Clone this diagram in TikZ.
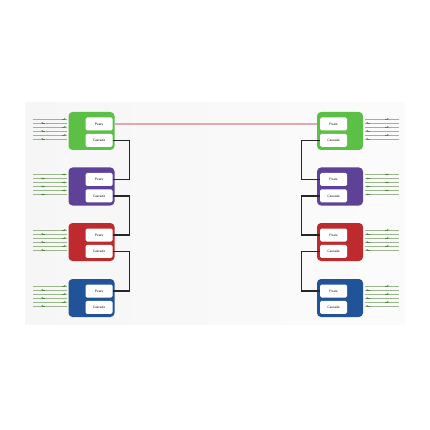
\documentclass[tikz,border=0pt]{standalone}
\usepackage{tikz}
\usetikzlibrary{positioning, arrows.meta, calc}

\definecolor{pgreen}{HTML}{5CBF46}
\definecolor{ppurple}{HTML}{5E4297}
\definecolor{pred}{HTML}{BF2A2E}
\definecolor{pblue}{HTML}{215398}
\definecolor{feedline}{HTML}{9DB58F}
\definecolor{feedtip}{HTML}{4F8A3E}
\definecolor{linkpink}{HTML}{DDAAAF}

\tikzset{
	panel/.style={rounded corners=4pt, minimum width=46pt, minimum height=38pt, inner sep=0pt},
	btn/.style={fill=white, rounded corners=1.5pt, minimum width=27pt, minimum height=13pt, inner sep=0pt, font=\fontsize{3.4}{3.4}\selectfont\sffamily},
	wire/.style={black!85, line width=1.3pt},
	feed/.style={feedline, line width=0.45pt},
	tip/.style={-{Stealth[length=2pt,width=1.6pt]}, feedtip}
}

\begin{document}
\begin{tikzpicture}[x=1pt, y=-1pt]
	\useasboundingbox (0,0) rectangle (430,430);
	% background panel
	\shade[left color=gray!7, right color=gray!3] (25,103) rectangle (405,324);

	% the switch boxes (left and right columns)
	\foreach \name/\col/\y in {a/pgreen/131, b/ppurple/186.5, c/pred/242, d/pblue/298} {
		\node[panel, fill=\col] (\name L) at (91.5,\y) {};
		\node[btn, anchor=center] (\name LP) at (99,\y-7) {Pears};
		\node[btn, below=3pt of \name LP] (\name LC) {Cascade};
		\node[panel, fill=\col] (\name R) at (340,\y) {};
		\node[btn, anchor=center] (\name RP) at (333.5,\y-7) {Pears};
		\node[btn, below=3pt of \name RP] (\name RC) {Cascade};
		% feed lines
		\foreach \k in {0,...,5} {
			\pgfmathsetmacro{\yy}{\y-12+4*\k}
			\draw[feed] (33,\yy) -- (67,\yy);
			\draw[feed] (365,\yy) -- (399,\yy);
			\ifodd\k
				\draw[tip] (45,\yy) -- (41,\yy);
				\draw[tip] (370,\yy) -- (366,\yy);
			\else
				\draw[tip] (62,\yy) -- (66,\yy);
				\draw[tip] (385,\yy) -- (389,\yy);
			\fi
		}
	}

	% link between the two top boxes
	\draw[linkpink, line width=1.3pt] (aL.east |- aLP) -- (aR.west |- aRP);

	% cascade wiring
	\foreach \from/\to in {a/b, b/c, c/d} {
		\draw[wire] (\from LC.east) -- ++(17,0) |- (\to LP.east);
		\draw[wire] (\from RC.west) -- ++(-18,0) |- (\to RP.west);
	}
\end{tikzpicture}
\end{document}
